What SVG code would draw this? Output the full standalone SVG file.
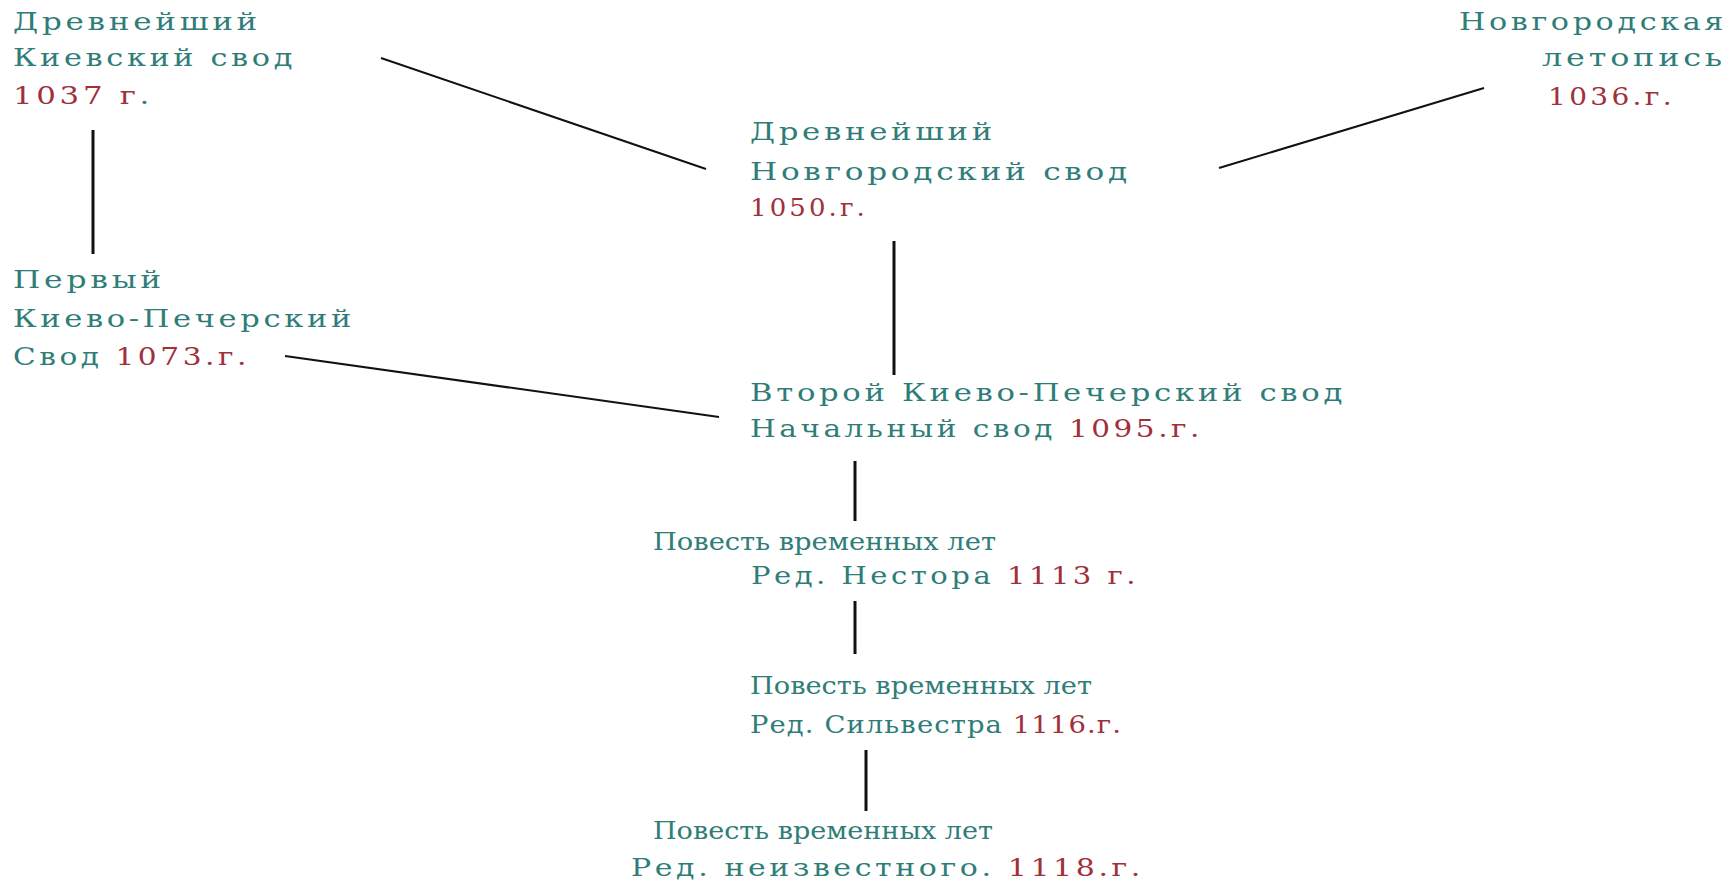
<svg xmlns="http://www.w3.org/2000/svg" width="1730" height="882" viewBox="0 0 1730 882">
<style>
text{font-family:"DejaVu Serif","Liberation Serif",serif;font-size:25px;letter-spacing:3px;fill:#2f7d78;}
text.t{letter-spacing:0;}
text.m{letter-spacing:1px;}
.r{fill:#a0303a;}
.c line{stroke:#111;stroke-width:2;}
.c .v{stroke-width:3;}
</style>
<rect width="1730" height="882" fill="#fff"/>
<g class="c" id="connectors">
<line x1="381" y1="58" x2="706" y2="169"/>
<line x1="1484" y1="88" x2="1219" y2="168"/>
<line class="v" x1="93" y1="130" x2="93" y2="254"/>
<line class="v" x1="894" y1="241" x2="894" y2="375"/>
<line x1="285" y1="356" x2="719" y2="417"/>
<line class="v" x1="855" y1="461" x2="855" y2="521"/>
<line class="v" x1="855" y1="601" x2="855" y2="654"/>
<line class="v" x1="866" y1="750" x2="866" y2="811"/>
</g>
<g id="n1">
<text x="13" y="30" textLength="248" lengthAdjust="spacingAndGlyphs">Древнейший</text>
<text x="13" y="66" textLength="283" lengthAdjust="spacingAndGlyphs">Киевский свод</text>
<text x="13" y="104" textLength="140" lengthAdjust="spacingAndGlyphs"><tspan class="r">1037 г</tspan>.</text>
</g>
<g id="n2">
<text x="1459" y="30" textLength="268" lengthAdjust="spacingAndGlyphs">Новгородская</text>
<text x="1542" y="66" textLength="184" lengthAdjust="spacingAndGlyphs">летопись</text>
<text x="1548" y="105" textLength="127" lengthAdjust="spacingAndGlyphs" class="r">1036.г.</text>
</g>
<g id="n3">
<text x="750" y="140" textLength="246" lengthAdjust="spacingAndGlyphs">Древнейший</text>
<text x="750" y="180" textLength="381" lengthAdjust="spacingAndGlyphs">Новгородский свод</text>
<text x="750" y="216" textLength="118" lengthAdjust="spacingAndGlyphs" class="r">1050.г.</text>
</g>
<g id="n4">
<text x="13" y="288" textLength="152" lengthAdjust="spacingAndGlyphs">Первый</text>
<text x="13" y="327" textLength="342" lengthAdjust="spacingAndGlyphs">Киево-Печерский</text>
<text x="13" y="365" textLength="237" lengthAdjust="spacingAndGlyphs">Свод <tspan class="r">1073.г.</tspan></text>
</g>
<g id="n5">
<text x="750" y="401" textLength="596" lengthAdjust="spacingAndGlyphs">Второй Киево-Печерский свод</text>
<text x="750" y="437" textLength="453" lengthAdjust="spacingAndGlyphs">Начальный свод <tspan class="r">1095.г.</tspan></text>
</g>
<g id="n6">
<text class="t" x="653" y="550" textLength="343" lengthAdjust="spacingAndGlyphs">Повесть временных лет</text>
<text x="751" y="584" textLength="388" lengthAdjust="spacingAndGlyphs">Ред. Нестора <tspan class="r">1113 г.</tspan></text>
</g>
<g id="n7">
<text class="t" x="750" y="694" textLength="342" lengthAdjust="spacingAndGlyphs">Повесть временных лет</text>
<text class="m" x="750" y="733" textLength="372" lengthAdjust="spacingAndGlyphs">Ред. Сильвестра <tspan class="r">1116.г.</tspan></text>
</g>
<g id="n8">
<text class="t" x="653" y="839" textLength="340" lengthAdjust="spacingAndGlyphs">Повесть временных лет</text>
<text x="631" y="876" textLength="513" lengthAdjust="spacingAndGlyphs">Ред. неизвестного. <tspan class="r">1118.г.</tspan></text>
</g>
</svg>
